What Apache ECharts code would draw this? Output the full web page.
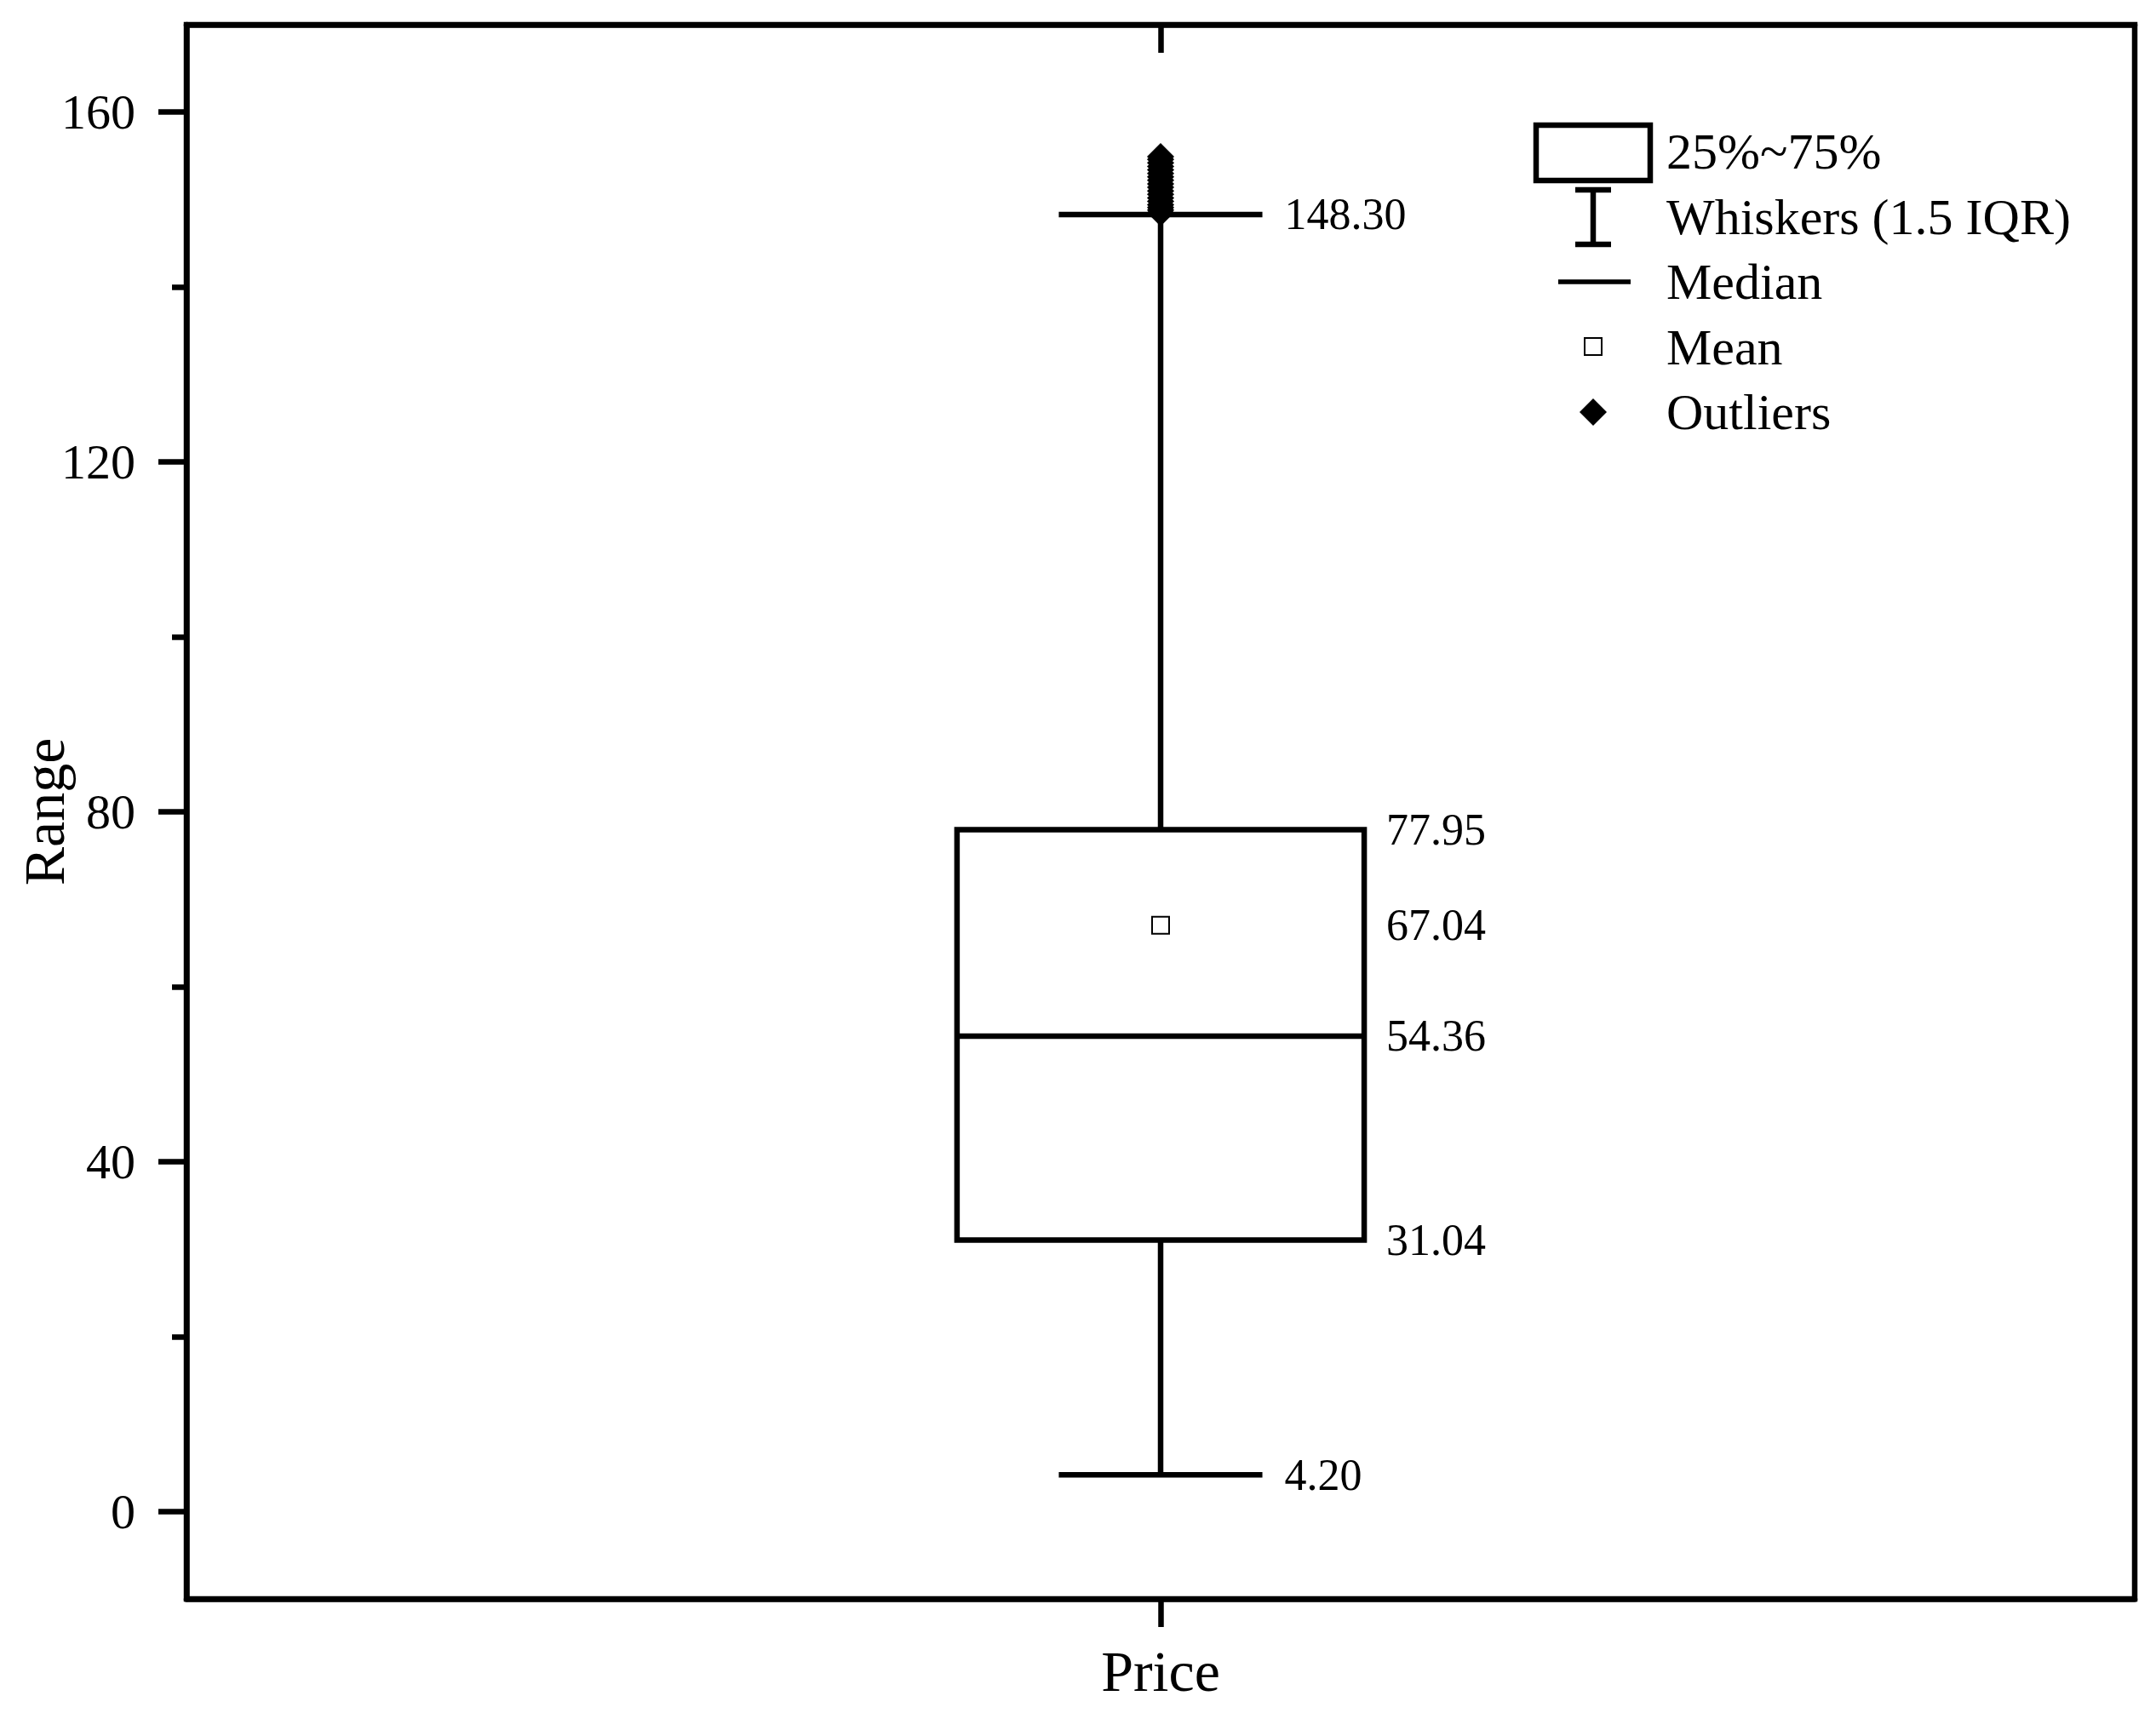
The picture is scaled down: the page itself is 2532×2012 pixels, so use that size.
<!DOCTYPE html>
<html><head><meta charset="utf-8">
<script src="https://cdn.jsdelivr.net/npm/echarts@6/dist/echarts.min.js"></script>
<style>html,body{margin:0;padding:0;background:#fff}#c{width:2532px;height:2012px}</style>
</head><body><div id="c"></div>
<script>
// ---- data ----
const categories = ['Price'];
const whiskerLow = [4.20];
const q1 = [31.04];
const median = [54.36];
const q3 = [77.95];
const whiskerHigh = [148.30];
const mean = [67.04];
const outliers = [148.5, 148.8, 149.1, 149.4, 149.8, 150.2, 150.6, 151.0, 151.4, 151.8, 152.2, 152.6, 153.0, 153.4, 153.8, 154.2, 154.6, 154.9];
const yTickValues = [0, 40, 80, 120, 160];
const yMinorTickValues = [20, 60, 100, 140];
const legendLabels = ['25%~75%', 'Whiskers (1.5 IQR)', 'Median', 'Mean', 'Outliers'];

const FONT = '"Liberation Serif", "Times New Roman", "DejaVu Serif", serif';
const LW = 6.5;

const boxData = categories.map((c, i) => [i, whiskerLow[i], q1[i], median[i], q3[i], whiskerHigh[i], mean[i]]);
const meanData = categories.map((c, i) => [i, mean[i]]);
const outlierData = outliers.map(v => [0, v]);

function renderBox(params, api) {
  const xi = api.value(0);
  const cx = api.coord([xi, api.value(3)])[0];
  const band = api.size([1, 0])[0];
  const half = band * 0.1045;
  const cap = half / 2;
  const y = k => api.coord([xi, api.value(k)])[1];
  const yl = y(1), yq1 = y(2), ym = y(3), yq3 = y(4), yh = y(5), ymean = y(6);
  const ls = { stroke: '#000', lineWidth: LW };
  const txt = (x, yy, v) => ({
    type: 'text', x: x, y: yy,
    style: { text: v.toFixed(2), fill: '#000', font: '52px ' + FONT, textAlign: 'left', textVerticalAlign: 'middle' }
  });
  return {
    type: 'group', children: [
      { type: 'line', shape: { x1: cx, y1: yl, x2: cx, y2: yq1 }, style: ls },
      { type: 'line', shape: { x1: cx, y1: yq3, x2: cx, y2: yh }, style: ls },
      { type: 'line', shape: { x1: cx - cap, y1: yl, x2: cx + cap, y2: yl }, style: ls },
      { type: 'line', shape: { x1: cx - cap, y1: yh, x2: cx + cap, y2: yh }, style: ls },
      { type: 'rect', shape: { x: cx - half, y: yq3, width: 2 * half, height: yq1 - yq3 }, style: { fill: '#fff', stroke: '#000', lineWidth: LW } },
      { type: 'line', shape: { x1: cx - half, y1: ym, x2: cx + half, y2: ym }, style: ls },
      txt(cx + cap + 26, yh, api.value(5)),
      txt(cx + cap + 26, yl, api.value(1)),
      txt(cx + half + 26, yq3, api.value(4)),
      txt(cx + half + 26, ymean, api.value(6)),
      txt(cx + half + 26, ym, api.value(3)),
      txt(cx + half + 26, yq1, api.value(2))
    ]
  };
}

// legend drawn as graphic
const lgX = 1957, lgY0 = 178, lgStep = 76.5, symX = 1871;
const legendGraphics = [
  { type: 'rect', shape: { x: 1804, y: 147, width: 134, height: 65 }, style: { fill: '#fff', stroke: '#000', lineWidth: LW } },
  { type: 'line', shape: { x1: symX, y1: 223, x2: symX, y2: 287 }, style: { stroke: '#000', lineWidth: LW } },
  { type: 'line', shape: { x1: symX - 21, y1: 223, x2: symX + 21, y2: 223 }, style: { stroke: '#000', lineWidth: LW } },
  { type: 'line', shape: { x1: symX - 21, y1: 287, x2: symX + 21, y2: 287 }, style: { stroke: '#000', lineWidth: LW } },
  { type: 'line', shape: { x1: 1830, y1: 331, x2: 1915, y2: 331 }, style: { stroke: '#000', lineWidth: LW - 1 } },
  { type: 'rect', shape: { x: symX - 10, y: 407 - 10, width: 20, height: 20 }, style: { fill: '#fff', stroke: '#000', lineWidth: 2 } },
  { type: 'polygon', shape: { points: [[symX, 484 - 16], [symX + 16, 484], [symX, 484 + 16], [symX - 16, 484]] }, style: { fill: '#000' } }
];
legendLabels.forEach((t, i) => {
  legendGraphics.push({ type: 'text', x: lgX, y: lgY0 + i * lgStep, style: { text: t, fill: '#000', font: '60px ' + FONT, textAlign: 'left', textVerticalAlign: 'middle' } });
});

const chart = echarts.init(document.getElementById('c'), null, { renderer: 'svg' });
chart.setOption({
  backgroundColor: '#fff',
  animation: false,
  grid: { left: 219, right: 25, top: 29, bottom: 134, outerBoundsMode: 'none', containLabel: false, show: true, borderColor: '#000', borderWidth: LW, backgroundColor: 'transparent' },
  xAxis: [
    {
      type: 'category', data: categories, position: 'bottom', boundaryGap: true,
      axisLine: { show: true, onZero: false, lineStyle: { color: '#000', width: LW } },
      axisTick: { show: true, alignWithLabel: true, length: 33, lineStyle: { color: '#000', width: LW } },
      axisLabel: { color: '#000', fontSize: 68, fontFamily: FONT, margin: 51 },
      splitLine: { show: false }
    },
    {
      type: 'category', data: categories, position: 'top', boundaryGap: true,
      axisLine: { show: true, onZero: false, lineStyle: { color: '#000', width: LW } },
      axisTick: { show: true, inside: true, alignWithLabel: true, length: 33, lineStyle: { color: '#000', width: LW } },
      axisLabel: { show: false },
      splitLine: { show: false }
    }
  ],
  yAxis: [
    {
      type: 'value', min: -10, max: 170, position: 'left',
      name: 'Range', nameLocation: 'middle', nameGap: 133, nameMoveOverlap: false,
      nameTextStyle: { color: '#000', fontSize: 68, fontFamily: FONT },
      axisLine: { show: true, onZero: false, lineStyle: { color: '#000', width: LW } },
      axisTick: { show: true, length: 33, customValues: yTickValues, lineStyle: { color: '#000', width: LW } },
      axisLabel: { color: '#000', fontSize: 58, fontFamily: FONT, margin: 60, customValues: yTickValues },
      splitLine: { show: false }
    },
    {
      type: 'value', min: -10, max: 170, position: 'left',
      axisLine: { show: false, onZero: false },
      axisTick: { show: true, length: 17, customValues: yMinorTickValues, lineStyle: { color: '#000', width: LW } },
      axisLabel: { show: false },
      splitLine: { show: false }
    }
  ],
  series: [
    { type: 'custom', xAxisIndex: 0, yAxisIndex: 0, renderItem: renderBox, data: boxData, encode: { x: 0, y: [1, 2, 3, 4, 5] }, z: 2, silent: true },
    { type: 'scatter', name: 'Mean', data: meanData, symbol: 'rect', symbolSize: 20, itemStyle: { color: '#fff', borderColor: '#000', borderWidth: 2, opacity: 1 }, z: 4, silent: true },
    { type: 'scatter', name: 'Outliers', data: outlierData, symbol: 'diamond', symbolSize: 32, itemStyle: { color: '#000', opacity: 1 }, z: 5, silent: true }
  ],
  graphic: legendGraphics
});
</script>
</body></html>
